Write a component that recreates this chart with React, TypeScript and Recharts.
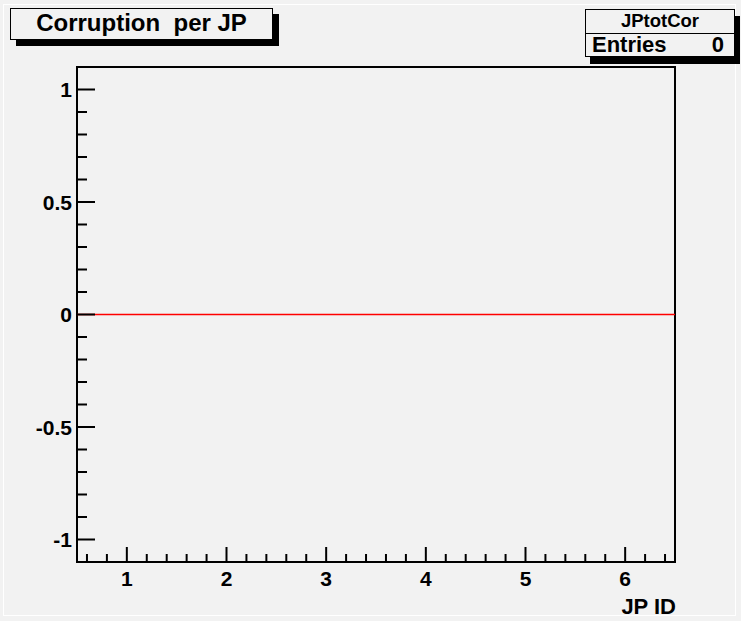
import React from "react";
import { LineChart, Line, XAxis, YAxis, ReferenceArea } from "recharts";

// histogram JPtotCor: 6 bins, all empty
const binCenters = [1, 2, 3, 4, 5, 6];
const binContents = [0, 0, 0, 0, 0, 0];
const binWidth = 1;

const xMajorTicks = [1, 2, 3, 4, 5, 6];
const yMajorTicks = [-1, -0.5, 0, 0.5, 1];
const xDomain = [0.5, 6.5];
const yDomain = [-1.1, 1.1];

const histTitle = "Corruption  per JP";
const statsName = "JPtotCor";
const statsEntries = 0;
const xTitle = "JP ID";

const FONT = "'Liberation Sans', Arial, Helvetica, sans-serif";
const BG = "#f2f2f2";

// minor ticks every 0.2 on x, 0.1 on y
const round1 = (v: number) => Math.round(v * 10) / 10;
const xMinorTicks: number[] = [];
for (let v = 0.6; v < 6.5; v += 0.2) xMinorTicks.push(round1(v));
const yMinorTicks: number[] = [];
for (let v = -1; v <= 1.0001; v += 0.1) yMinorTicks.push(round1(v));

const isMajor = (list: number[], v: number) => list.some((t) => Math.abs(t - v) < 1e-6);

// histogram drawn as step line through bin edges
const histData = binCenters.map((c, i) => ({ x: c - binWidth / 2, y: binContents[i] }));
histData.push({
  x: binCenters[binCenters.length - 1] + binWidth / 2,
  y: binContents[binContents.length - 1],
});

const XTick = (props: any) => {
  const { x, y, payload } = props;
  const v = payload.value;
  const major = isMajor(xMajorTicks, v);
  return (
    <g>
      <line x1={x} y1={y} x2={x} y2={y - (major ? 15 : 8)} stroke="#000" strokeWidth={2} />
      {major && (
        <text x={x} y={y + 24} textAnchor="middle" fontFamily={FONT} fontWeight="bold" fontSize={21} fill="#000">
          {v}
        </text>
      )}
    </g>
  );
};

const YTick = (props: any) => {
  const { x, y, payload } = props;
  const v = payload.value;
  const major = isMajor(yMajorTicks, v);
  return (
    <g>
      <line x1={x} y1={y} x2={x + (major ? 18 : 10)} y2={y} stroke="#000" strokeWidth={2} />
      {major && (
        <text x={x - 5} y={y + 7.5} textAnchor="end" fontFamily={FONT} fontWeight="bold" fontSize={21} fill="#000">
          {String(v)}
        </text>
      )}
    </g>
  );
};

const App: React.FC = () => {
  return (
    <div style={{ position: "absolute", left: 0, top: 0, width: 741, height: 621, background: BG, fontFamily: FONT }}>
      <div
        style={{
          position: "absolute",
          left: 3,
          top: 4,
          width: 733,
          height: 612,
          border: "1px solid #ffffff",
          boxSizing: "border-box",
        }}
      />
      <LineChart
        width={741}
        height={621}
        data={histData}
        margin={{ top: 67, right: 66, bottom: 0, left: 0 }}
        style={{ position: "absolute", left: 0, top: 0 }}
      >
        <XAxis
          dataKey="x"
          type="number"
          domain={xDomain}
          ticks={xMinorTicks}
          interval={0}
          height={59}
          tickSize={0}
          tickMargin={0}
          axisLine={false}
          tickLine={false}
          tick={<XTick />}
        />
        <YAxis
          type="number"
          domain={yDomain}
          ticks={yMinorTicks}
          interval={0}
          width={77}
          tickSize={0}
          tickMargin={0}
          axisLine={false}
          tickLine={false}
          tick={<YTick />}
        />
        <Line
          dataKey="y"
          type="stepAfter"
          stroke="#ff0000"
          strokeWidth={1.5}
          dot={false}
          isAnimationActive={false}
        />
        <ReferenceArea
          x1={xDomain[0]}
          x2={xDomain[1]}
          y1={yDomain[0]}
          y2={yDomain[1]}
          fill="none"
          stroke="#000"
          strokeWidth={2}
          ifOverflow="visible"
        />
      </LineChart>

      {/* x axis title */}
      <div
        style={{
          position: "absolute",
          right: 741 - 676,
          top: 595,
          fontSize: 22,
          fontWeight: "bold",
          lineHeight: "24px",
        }}
      >
        {xTitle}
      </div>

      {/* title box */}
      <div
        style={{
          position: "absolute",
          left: 10,
          top: 8,
          width: 263,
          height: 32,
          boxSizing: "border-box",
          border: "1.5px solid #000",
          background: BG,
          boxShadow: "6px 6px 0 #000",
          textAlign: "center",
          fontSize: 24,
          fontWeight: "bold",
          lineHeight: "28px",
          whiteSpace: "pre",
        }}
      >
        {histTitle}
      </div>

      {/* stats box */}
      <div
        style={{
          position: "absolute",
          left: 585,
          top: 9,
          width: 150,
          height: 48,
          boxSizing: "border-box",
          border: "1.5px solid #000",
          background: BG,
          boxShadow: "5px 7px 0 #000",
          fontWeight: "bold",
        }}
      >
        <div
          style={{
            height: 23,
            lineHeight: "22px",
            fontSize: 18.5,
            textAlign: "center",
            borderBottom: "1.5px solid #000",
          }}
        >
          {statsName}
        </div>
        <div
          style={{
            height: 22,
            lineHeight: "22px",
            fontSize: 22,
            display: "flex",
            justifyContent: "space-between",
            padding: "0 10px 0 6px",
          }}
        >
          <span>Entries</span>
          <span>{statsEntries}</span>
        </div>
      </div>
    </div>
  );
};

export default App;
